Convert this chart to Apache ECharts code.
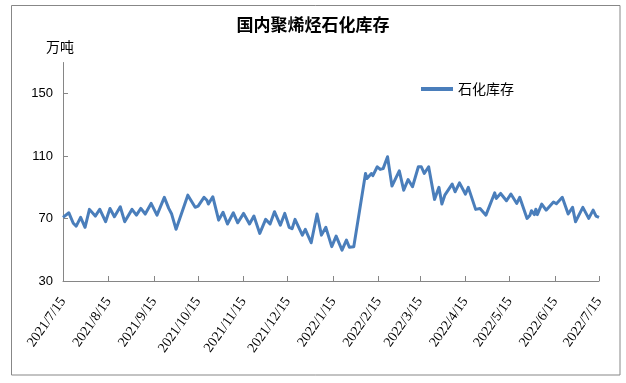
<!DOCTYPE html>
<html>
<head>
<meta charset="utf-8">
<script src="https://cdn.jsdelivr.net/npm/echarts@6/dist/echarts.min.js"></script>
<style>
html,body{margin:0;padding:0;background:#fff;}
#chart{width:626px;height:383px;}
</style>
</head>
<body>
<div id="chart"></div>
<script>
const titleText = '国内聚烯烃石化库存';
const unitText = '万吨';
const seriesName = '石化库存';
const yTicks = [30, 70, 110, 150];
const xTickDates = ['2021-07-15','2021-08-15','2021-09-15','2021-10-15','2021-11-15','2021-12-15','2022-01-15','2022-02-15','2022-03-15','2022-04-15','2022-05-15','2022-06-15','2022-07-15'];
const dates = [
'2021-07-15','2021-07-19','2021-07-22','2021-07-24','2021-07-27','2021-07-28','2021-07-30',
'2021-08-02','2021-08-06','2021-08-09','2021-08-13','2021-08-16','2021-08-19','2021-08-23','2021-08-26','2021-08-27','2021-08-31',
'2021-09-03','2021-09-06','2021-09-09','2021-09-13','2021-09-17','2021-09-22','2021-09-25','2021-09-27','2021-09-30',
'2021-10-08','2021-10-13','2021-10-15','2021-10-19','2021-10-21','2021-10-22','2021-10-25','2021-10-29',
'2021-11-01','2021-11-04','2021-11-08','2021-11-11','2021-11-15','2021-11-19','2021-11-22','2021-11-26','2021-11-30',
'2021-12-03','2021-12-06','2021-12-10','2021-12-13','2021-12-16','2021-12-18','2021-12-20','2021-12-25','2021-12-27','2021-12-31',
'2022-01-04','2022-01-07','2022-01-10','2022-01-14','2022-01-17','2022-01-21','2022-01-24','2022-01-26','2022-01-29',
'2022-02-06','2022-02-07','2022-02-10','2022-02-11','2022-02-14','2022-02-16','2022-02-18','2022-02-21','2022-02-24',
'2022-03-01','2022-03-04','2022-03-07','2022-03-10','2022-03-14','2022-03-16','2022-03-18','2022-03-21','2022-03-22','2022-03-25','2022-03-28','2022-03-30',
'2022-04-01','2022-04-06','2022-04-08','2022-04-11','2022-04-15','2022-04-17','2022-04-22','2022-04-25','2022-04-29',
'2022-05-05','2022-05-06','2022-05-09','2022-05-13','2022-05-16','2022-05-20','2022-05-22','2022-05-27','2022-05-29','2022-05-30',
'2022-06-01','2022-06-02','2022-06-03','2022-06-06','2022-06-09','2022-06-14','2022-06-16','2022-06-20','2022-06-24','2022-06-27','2022-06-29',
'2022-07-04','2022-07-08','2022-07-11','2022-07-13','2022-07-15'
];
const values = [
70.8,73.7,67,65.2,70.8,70.8,64.4,
75.9,71.6,76,68,76.5,71.2,77.6,68,67.5,75.9,
72.2,76.5,72.9,79.7,72.2,83.6,76.5,72.9,63.1,
85,77.2,78,83.6,81.7,79.3,84,69,
74,66.5,73.7,67.3,73.3,66.5,71.6,60.5,69.5,
66.5,74.4,65.8,73.3,64.4,63.5,69.5,59.4,63.1,54.5,
72.9,59.4,64.4,52,58.8,49.8,56.2,51.6,52,
98.9,95.7,98.9,97.5,103.2,101.5,102,109.6,90.8,
100.6,88.2,95,90.4,103.2,103.2,98.9,103.2,102,82.3,90,79.3,
85,92.1,87.2,92.9,85.7,90,75.9,76.5,72.2,
86.5,82.9,86.1,81.4,85.7,79.7,83.6,70.1,72.2,75,
72.5,76,72.5,79.3,75.4,80.6,79.5,83.6,72.9,77.2,68,
77.2,70.1,75.4,71.6,70.8
];

function toTime(d) { return new Date(d + 'T00:00:00Z').getTime(); }
const seriesData = dates.map((d, i) => [toTime(d), values[i]]);
const tickTimes = xTickDates.map(toTime);

const chart = echarts.init(document.getElementById('chart'), null, {renderer: 'canvas'});
chart.setOption({
  backgroundColor: '#ffffff',
  animation: false,
  title: [
    {text: titleText, left: 'center', top: 11,
     textStyle: {fontFamily: 'Noto Sans CJK SC', fontSize: 17, fontWeight: 'bold', color: '#000'}},
    {text: unitText, left: 41, top: 35,
     textStyle: {fontFamily: 'Noto Sans CJK SC', fontSize: 14, fontWeight: 'normal', color: '#000'}}
  ],
  legend: {
    left: 416, top: 77,
    itemWidth: 32, itemHeight: 4, itemGap: 10,
    textStyle: {fontFamily: 'Noto Sans CJK SC', fontSize: 14, color: '#000'},
    data: [{name: seriesName, icon: 'rect'}]
  },
  graphic: [{
    type: 'rect', shape: {x: 11.5, y: 5.5, width: 608.5, height: 369.5},
    style: {fill: null, stroke: '#878787', lineWidth: 1}, silent: true
  }],
  grid: {left: 63, right: 27, top: 62.5, bottom: 102, containLabel: false},
  xAxis: {
    type: 'value',
    min: tickTimes[0], max: tickTimes[tickTimes.length - 1],
    axisLine: {show: true, lineStyle: {color: '#868686', width: 1}},
    axisTick: {show: true, inside: true, length: 5, lineStyle: {color: '#868686'}, customValues: tickTimes},
    splitLine: {show: false},
    axisLabel: {
      customValues: tickTimes,
      rotate: 55, margin: 18,
      fontFamily: 'Liberation Serif', fontSize: 14, color: '#000',
      padding: [44, 0, 0, 0],
      formatter: function (v) {
        const d = new Date(v);
        return d.getUTCFullYear() + '/' + (d.getUTCMonth() + 1) + '/' + d.getUTCDate();
      }
    }
  },
  yAxis: {
    type: 'value', min: 30, max: 170,
    axisLine: {show: true, lineStyle: {color: '#868686', width: 1}},
    axisTick: {show: true, inside: true, length: 5, lineStyle: {color: '#868686'}, customValues: yTicks},
    splitLine: {show: false},
    axisLabel: {customValues: yTicks, margin: 10, fontFamily: 'Liberation Sans', fontSize: 13, color: '#000'}
  },
  series: [{
    name: seriesName, type: 'line', data: seriesData,
    symbol: 'none', smooth: false,
    lineStyle: {color: '#4A7EBB', width: 3, join: 'round'},
    itemStyle: {color: '#4A7EBB'}
  }]
});
</script>
</body>
</html>
